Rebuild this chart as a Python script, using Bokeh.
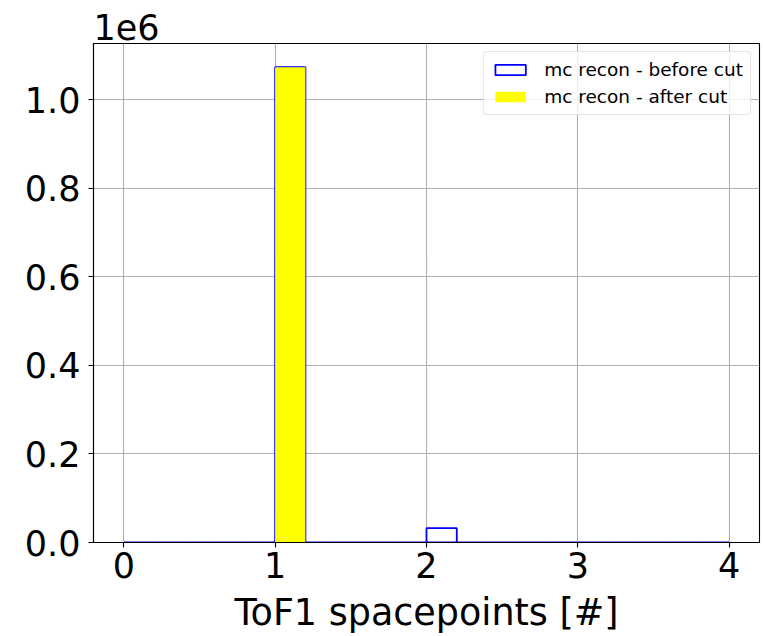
from bokeh.plotting import figure
from bokeh.models import Range1d, FixedTicker, Legend, LegendItem, Title, ColumnDataSource
from bokeh.embed import file_html
from bokeh.resources import INLINE

# Histogram of ToF1 spacepoints per event, 20 bins of width 0.2 over [0, 4]
bin_edges = [0.0, 0.2, 0.4, 0.6, 0.8, 1.0, 1.2, 1.4, 1.6, 1.8, 2.0,
             2.2, 2.4, 2.6, 2.8, 3.0, 3.2, 3.4, 3.6, 3.8, 4.0]
before_cut = [0, 0, 0, 0, 0, 1073000, 0, 0, 0, 0,
              32500, 0, 0, 0, 0, 0, 0, 0, 0, 0]
after_cut = [0, 0, 0, 0, 0, 1073000, 0, 0, 0, 0,
             0, 0, 0, 0, 0, 0, 0, 0, 0, 0]

x_ticks = [0, 1, 2, 3, 4]
y_ticks = [0, 200000, 400000, 600000, 800000, 1000000]
y_tick_labels = ["0.0", "0.2", "0.4", "0.6", "0.8", "1.0"]

FONT = "DejaVu Sans"
BIG = "35px"

left = bin_edges[:-1]
right = bin_edges[1:]
src_before = ColumnDataSource(dict(left=left, right=right, top=before_cut, bottom=[0] * len(left)))
src_after = ColumnDataSource(dict(left=left, right=right, top=after_cut, bottom=[0] * len(left)))

ymax = max(before_cut) * 1.05

p = figure(width=763, height=636, output_backend="svg", toolbar_location=None,
           x_range=Range1d(-0.2, 4.2), y_range=Range1d(0, ymax),
           min_border_left=93, min_border_right=4, min_border_top=43, min_border_bottom=94)

p.background_fill_color = "white"
p.border_fill_color = "white"
p.outline_line_color = "black"
p.outline_line_width = 1.1

# grid
p.xgrid.ticker = FixedTicker(ticks=x_ticks)
p.ygrid.ticker = FixedTicker(ticks=y_ticks)
for g in (p.xgrid, p.ygrid):
    g.grid_line_color = "#b0b0b0"
    g.grid_line_width = 1.1

# bars: blue step outline, yellow filled bars
r_before = p.quad(left="left", right="right", top="top", bottom="bottom", source=src_before,
                  fill_color=None, line_color="blue", line_width=1.8)
r_after = p.quad(left="left", right="right", top="top", bottom="bottom", source=src_after,
                 fill_color="yellow", line_color=None)

# axes
p.xaxis.ticker = FixedTicker(ticks=x_ticks)
p.yaxis.ticker = FixedTicker(ticks=y_ticks)
p.yaxis.major_label_overrides = {t: s for t, s in zip(y_ticks, y_tick_labels)}
for ax in (p.xaxis, p.yaxis):
    ax.major_label_text_font = FONT
    ax.major_label_text_font_size = BIG
    ax.major_label_text_color = "black"
    ax.axis_line_color = "black"
    ax.axis_line_width = 1.1
    ax.major_tick_line_color = "black"
    ax.major_tick_line_width = 1.1
    ax.major_tick_out = 5
    ax.major_tick_in = 0
    ax.minor_tick_out = 0
    ax.minor_tick_in = 0
p.xaxis.major_label_standoff = 4
p.yaxis.major_label_standoff = 8
p.xaxis.major_label_text_line_height = 0.8

p.xaxis.axis_label = "ToF1 spacepoints [#]"
p.xaxis.axis_label_text_font = FONT
p.xaxis.axis_label_text_font_size = "36.5px"
p.xaxis.axis_label_text_font_style = "normal"
p.xaxis.axis_label_text_color = "black"
p.xaxis.axis_label_text_line_height = 0.8
p.xaxis.axis_label_standoff = 10

# scale factor shown above the y axis
p.add_layout(Title(text="1e6", align="left", text_font=FONT, text_font_size=BIG,
                   text_font_style="normal", text_color="black", standoff=7, offset=0), "above")

legend = Legend(items=[LegendItem(label="mc recon - before cut", renderers=[r_before]),
                       LegendItem(label="mc recon - after cut", renderers=[r_after])],
                location="top_right", margin=8,
                label_text_font=FONT, label_text_font_size="18.5px", label_text_color="black",
                glyph_width=38, glyph_height=13, label_standoff=15,
                padding=7, spacing=6, border_radius=4,
                border_line_color="#cccccc", border_line_width=1,
                background_fill_color="white", background_fill_alpha=0.8)
p.add_layout(legend)

open("out.html", "w").write(file_html(p, INLINE))
